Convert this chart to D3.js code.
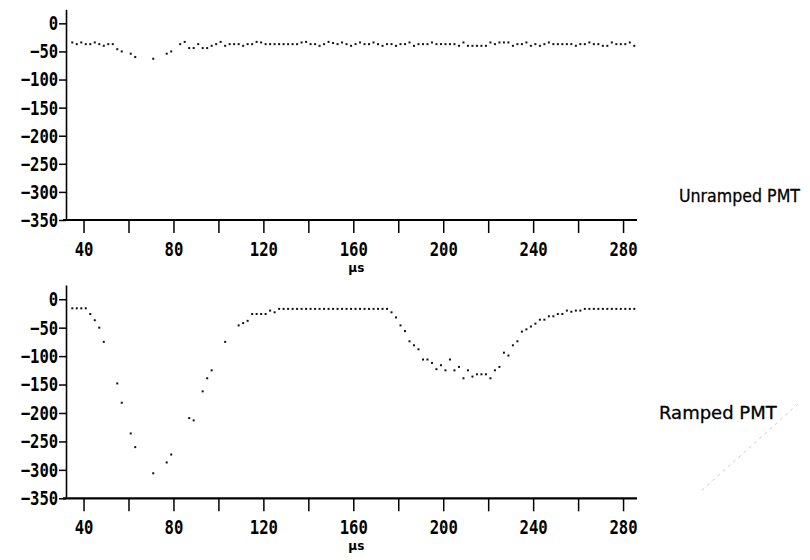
<!DOCTYPE html>
<html>
<head>
<meta charset="utf-8">
<script src="https://cdn.jsdelivr.net/npm/d3@7"></script>
<style>
  body { margin: 0; background: #fff; }
  .tick text { font-family: "DejaVu Sans Mono", monospace; font-weight: bold; }
</style>
</head>
<body>
<div id="vis"></div>
<script>
// sample grid, us (one sample every 2 us)
let sampleTimes = d3.range(35, 286, 2);

let xTicks = [40, 60, 80, 100, 120, 140, 160, 180, 200, 220, 240, 260, 280];
let yTicks = [0, -50, -100, -150, -200, -250, -300, -350];

// null = no dot printed at that sample
let unramped = [
    -34, -37, -34, -37, -37, -34, -37, -40, -37, -37, -46, -50,
    null, -54, -60, null, null, null, -63, null, null, -54, -50, null,
    -37, -33, -44, -44, -37, -44, -44, -40, -37, -33, -40, -37, -37, -37, -40, -37, -37, -33, -34,
    -37, -37, -37, -37, -37, -37, -37, -37,
    -34, -33, -37, -37, -40, -37, -33, -35,
    -37, -34, -37, -40, -37, -34, -37, -37, -34, -37,
    -40, -37, -37, -40, -37, -37, -34, -40, -37, -37,
    -37, -34, -37, -37, -37, -37, -37, -40, -34, -40,
    -40, -40, -40, -40, -34, -37, -34, -34, -34, -40,
    -37, -37, -34, -40, -37, -40, -37, -34, -37, -37,
    -37, -37, -37, -40, -37, -37, -34, -37, -37, -40,
    -40, -34, -37, -37, -37, -34, -40
];

let ramped = [
    -16, -16, -16, -16, -26, -37, -50, -75, null, null,
    -148, -182, null, -236, -260, null, null, null, -306, null,
    null, -287, -273, null, null, null, -209, -213, null, -162,
    -139, -125, null, null, -75, null, null, -46, -42, -38,
    -26, -26, -26, -26, -20, -23,
    -17, -17, -17, -17, -17, -17, -17, -17, -17, -17,
    -17, -17, -17, -17, -17, -17, -17, -17, -17, -17,
    -17, -17, -17, -17, -17,
    -23, -32, -46, -56, -74, -81, -88, -106, -106, -112,
    -123, -116, -125, -106, -125, -119, -139, -125, -136, -132,
    -132, -132, -139, -125, -119, -94, -99, -81, -74, -57,
    -53, -48, -43, -36, -36, -30, -30, -26, -26, -20,
    -22, -20, -20,
    -17, -17, -17, -17, -17, -17, -17, -17, -17, -17, -17, -17
];

let width = 810,
    height = 560;

let svg = d3.select("#vis")
    .append("svg")
    .attr("width", width)
    .attr("height", height);

let xScale = d3.scaleLinear()
    .domain([32.2, 286.2])
    .range([66, 637]);

function drawPanel(values, top, bottom, label, labelX, labelY, squeeze) {
    let yScale = d3.scaleLinear()
        .domain([-350, 25])
        .range([bottom, top]);

    let g = svg.append("g");

    // x axis
    let xAxis = g.append("g")
        .attr("transform", "translate(0," + bottom + ")")
        .call(d3.axisBottom(xScale)
            .tickValues(xTicks)
            .tickSize(13)
            .tickPadding(9)
            .tickFormat(d => d % 40 === 0 ? d : ""));
    xAxis.select(".domain")
        .attr("d", "M63,0H637")
        .attr("stroke-width", 2.2);
    xAxis.selectAll(".tick line").attr("stroke-width", 1.5);
    xAxis.selectAll(".tick text")
        .attr("font-size", 20)
        .attr("transform", "scale(0.78,1)");

    // y axis
    let yAxis = g.append("g")
        .attr("transform", "translate(66,0)")
        .call(d3.axisLeft(yScale)
            .tickValues(yTicks)
            .tickSize(7)
            .tickPadding(3)
            .tickSizeOuter(0)
            .tickFormat(d3.format("d")));
    yAxis.select(".domain").attr("stroke-width", 1.6);
    yAxis.selectAll(".tick line").attr("stroke-width", 1.5);
    yAxis.selectAll(".tick text")
        .attr("font-size", 20)
        .attr("transform", "scale(0.78,1)");

    // dots
    let pts = sampleTimes.map((t, i) => ({t: t, v: values[i]}))
        .filter(d => d.v !== null);
    g.append("g")
        .selectAll("rect")
        .data(pts)
        .enter().append("rect")
        .attr("x", d => xScale(d.t) - 1)
        .attr("y", d => yScale(d.v) - 1)
        .attr("width", 2)
        .attr("height", 2)
        .attr("fill", "#111");

    g.append("text")
        .attr("x", xScale(160) - 5)
        .attr("y", bottom + 52)
        .attr("font-family", "DejaVu Sans")
        .attr("font-weight", "bold")
        .attr("font-size", 12)
        .text("µs");

    svg.append("text")
        .attr("transform", "translate(" + labelX + "," + labelY + ") scale(" + squeeze + ",1)")
        .attr("font-family", "DejaVu Sans")
        .attr("font-size", 18)
        .attr("stroke", "#000")
        .attr("stroke-width", 0.3)
        .text(label);
}

drawPanel(unramped, 9.3, 220, "Unramped PMT", 679, 202, 0.88);
drawPanel(ramped, 285, 498.3, "Ramped PMT", 659, 419, 1.0);

// faint pencil stroke next to the lower label
svg.append("path")
    .attr("d", "M798,404 L700,492")
    .attr("stroke", "#bbb")
    .attr("stroke-width", 0.8)
    .attr("stroke-dasharray", "3,4")
    .attr("fill", "none");
</script>
</body>
</html>
